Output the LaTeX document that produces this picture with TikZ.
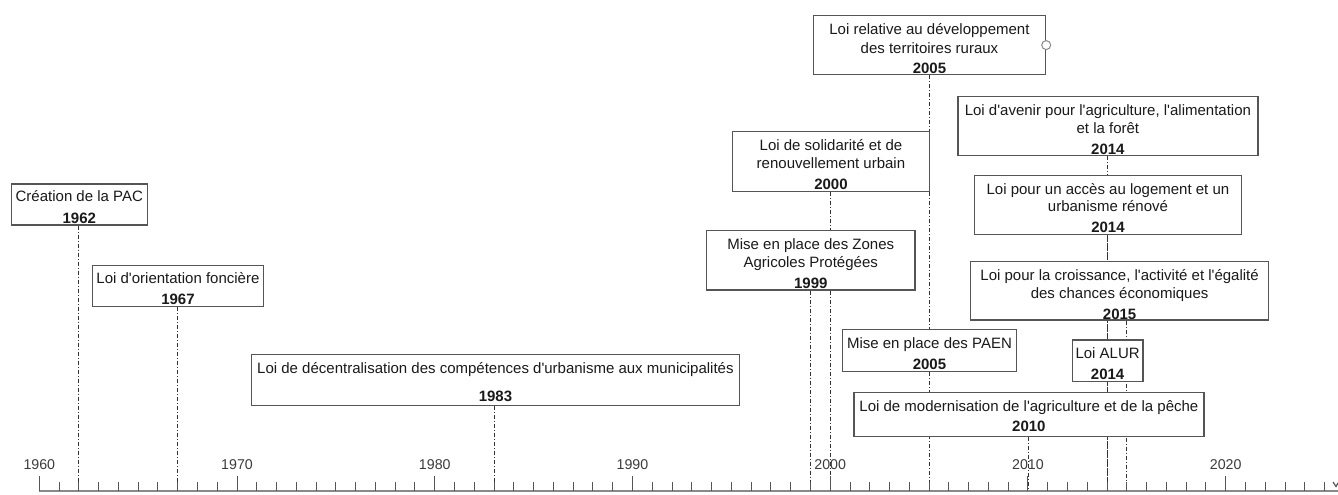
\documentclass[tikz,border=0pt]{standalone}
\usepackage{fontspec}
\setmainfont{Liberation Sans}
\newfontfamily\lawsans{Liberation Sans}
\usetikzlibrary{backgrounds,calc}
\definecolor{boxgray}{HTML}{555555}
\definecolor{linegray}{HTML}{333333}
\definecolor{axisgray}{HTML}{8A8A8A}
\definecolor{tickgray}{HTML}{555555}
\definecolor{txt}{HTML}{1A1A1A}
\newcommand{\fl}{\rule{0pt}{14pt}}
\begin{document}
\begin{tikzpicture}[x=1pt,y=-1pt,
  lawbox/.style={draw=boxgray, line width=1.2pt, fill=white, inner sep=0pt, anchor=north west},
  lawtext/.style={inner sep=0pt, align=center, anchor=north, text=txt,
    font=\lawsans\fontsize{15}{17.6}\selectfont},
  yearline/.style={draw=linegray, line width=0.9pt, dash pattern=on 4pt off 2pt on 1pt off 2pt},
  axisline/.style={draw=axisgray, line width=2pt},
  ticks/.style={draw=tickgray, line width=1pt},
  yearlabel/.style={text=txt!85, font=\lawsans\fontsize{14.2}{16}\selectfont, inner sep=0pt},
  handle/.style={circle, draw=axisgray, fill=white, line width=1pt, minimum size=9pt, inner sep=0pt}]
\useasboundingbox (0,0) rectangle (1338,495);

% year coordinates on the axis
\foreach \y in {1960,...,2025} {
  \coordinate (yr\y) at ({39.3+(\y-1960)*19.773},491);
}

% boxes
\node[lawbox, minimum width=136pt, minimum height=41pt] (b1) at (10.7,183.3) {};
\node[lawbox, minimum width=170.7pt, minimum height=41.3pt] (b2) at (92,264.7) {};
\node[lawbox, minimum width=488.3pt, minimum height=51pt] (b3) at (250.7,354) {};
\node[lawbox, minimum width=232.3pt, minimum height=59pt] (b4) at (812.7,15) {};
\node[lawbox, minimum width=197.3pt, minimum height=59.7pt] (b5) at (731.7,131) {};
\node[lawbox, minimum width=208.3pt, minimum height=59.3pt] (b6) at (706,230) {};
\node[lawbox, minimum width=300pt, minimum height=59.3pt] (b7) at (957.3,95.7) {};
\node[lawbox, minimum width=266.7pt, minimum height=59pt] (b8) at (974,175) {};
\node[lawbox, minimum width=298pt, minimum height=58.6pt] (b9) at (970,260.7) {};
\node[lawbox, minimum width=174.3pt, minimum height=42pt] (b10) at (841.7,329) {};
\node[lawbox, minimum width=70.6pt, minimum height=41.4pt] (b11) at (1071.7,339.3) {};
\node[lawbox, minimum width=350pt, minimum height=44pt] (b12) at (853.3,391.7) {};

% texts
\node[lawtext] (t1) at ([yshift=-4pt]b1.north) {\fl Création de la PAC\\[4.6pt]\textbf{1962}};
\node[lawtext] (t2) at ([yshift=-5pt]b2.north) {\fl Loi d'orientation foncière\\[3.4pt]\textbf{1967}};
\node[lawtext] (t3) at ([yshift=-5.5pt]b3.north) {\fl Loi de décentralisation des compétences d'urbanisme aux municipalités\\[10.6pt]\textbf{1983}};
\node[lawtext] (t4) at ([yshift=-5.3pt]b4.north) {\fl Loi relative au développement\\[1pt]des territoires ruraux\\[2.4pt]\textbf{2005}};
\node[lawtext] (t5) at ([yshift=-5.5pt]b5.north) {\fl Loi de solidarité et de\\renouvellement urbain\\[3.5pt]\textbf{2000}};
\node[lawtext] (t6) at ([yshift=-5.5pt]b6.north) {\fl Mise en place des Zones\\Agricoles Protégées\\[3.8pt]\textbf{1999}};
\node[lawtext] (t7) at ([yshift=-5.7pt]b7.north) {\fl Loi d'avenir pour l'agriculture, l'alimentation\\et la forêt\\[3.8pt]\textbf{2014}};
\node[lawtext] (t8) at ([yshift=-5pt]b8.north) {\fl Loi pour un accès au logement et un\\urbanisme rénové\\[3.2pt]\textbf{2014}};
\node[lawtext] (t9) at ([yshift=-5.5pt]b9.north) {\fl Loi pour la croissance, l'activité et l'égalité\\des chances économiques\\[3.4pt]\textbf{2015}};
\node[lawtext] (t10) at ([yshift=-5pt]b10.north) {\fl Mise en place des PAEN\\[3.4pt]\textbf{2005}};
\node[lawtext] (t11) at ([yshift=-4.8pt]b11.north) {\fl Loi ALUR\\[3.4pt]\textbf{2014}};
\node[lawtext] (t12) at ([yshift=-5.8pt]b12.north) {\fl Loi de modernisation de l'agriculture et de la pêche\\[2.4pt]\textbf{2010}};

\node[handle] (h4) at (b4.east) {};

% connectors from boxes down to the axis (behind the boxes)
\begin{scope}[on background layer]
\draw[yearline] (yr1962 |- b1.south) -- (yr1962);
\draw[yearline] (yr1967 |- b2.south) -- (yr1967);
\draw[yearline] (yr1983 |- b3.south) -- (yr1983);
\draw[yearline] (yr2005 |- b4.south) -- (yr2005);
\draw[yearline] (yr2000 |- b5.south) -- (yr2000);
\draw[yearline] (yr1999 |- b6.south) -- (yr1999);
\draw[yearline] (yr2014 |- b7.south) -- (yr2014);
\draw[yearline] (yr2014 |- b8.south) -- (yr2014);
\draw[yearline] (yr2015 |- b9.south) -- (yr2015);
\draw[yearline] (yr2005 |- b10.south) -- (yr2005);
\draw[yearline] (yr2014 |- b11.south) -- (yr2014);
\draw[yearline] (yr2010 |- b12.south) -- (yr2010);
\end{scope}

% axis
\coordinate (axend) at (1338,491);
\draw[axisline] (yr1960) -- (axend);
\foreach \y in {1960,...,2025} {
  \draw[ticks] (yr\y) -- ++(0,-9.5);
}
\foreach \y in {1960,1970,...,2020} {
  \draw[ticks] (yr\y) -- ++(0,-15);
  \node[yearlabel] (lab\y) at ($(yr\y)+(0,-26)$) {\y};
}
\draw[ticks, line width=1.2pt] (1333,482) -- (1336,486.5) -- (1338,483);
\end{tikzpicture}
\end{document}
